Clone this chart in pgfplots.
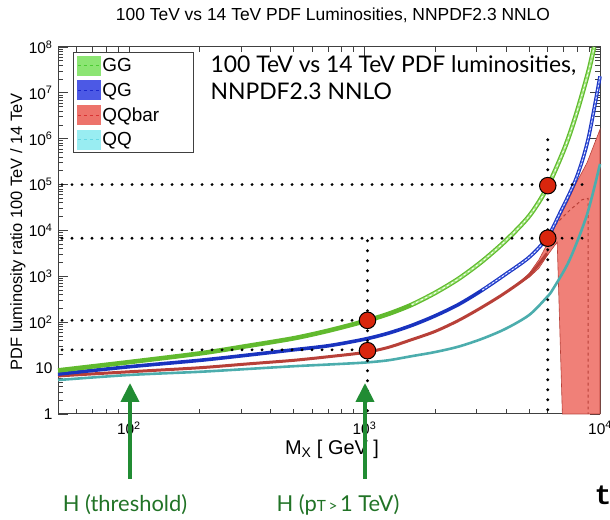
\documentclass[border=0pt]{standalone}
\usepackage{fontspec}
\setmainfont{Liberation Sans}
\newfontfamily\gill{Lato}
\newfontfamily\monob{Liberation Mono}
\usepackage{pgfplots}
\pgfplotsset{compat=1.18}
\usetikzlibrary{arrows.meta}
\definecolor{ggdark}{rgb}{0.38,0.73,0.18}
\definecolor{gglight}{rgb}{0.62,0.9,0.48}
\definecolor{qgdark}{rgb}{0.1,0.2,0.75}
\definecolor{qglight}{rgb}{0.35,0.45,0.92}
\definecolor{qqbdark}{rgb}{0.72,0.25,0.22}
\definecolor{qqbfill}{rgb}{0.94,0.5,0.47}
\definecolor{qqdark}{rgb}{0.3,0.68,0.68}
\definecolor{lgg}{rgb}{0.55,0.9,0.45}
\definecolor{lggd}{rgb}{0.3,0.8,0.2}
\definecolor{lqg}{rgb}{0.3,0.35,0.9}
\definecolor{lqgd}{rgb}{0.1,0.15,0.8}
\definecolor{lqqb}{rgb}{0.93,0.45,0.42}
\definecolor{lqqbd}{rgb}{0.85,0.2,0.2}
\definecolor{lqq}{rgb}{0.6,0.93,0.95}
\definecolor{lqqd}{rgb}{0.4,0.85,0.9}
\definecolor{arrowgreen}{rgb}{0.13,0.55,0.2}
\definecolor{textgreen}{rgb}{0.13,0.45,0.15}
\definecolor{dotred}{rgb}{0.85,0.15,0.05}
\begin{document}
\begin{tikzpicture}[x=1bp,y=1bp]
\useasboundingbox (-58,-106) rectangle (552,414);
\begin{axis}[
  at={(0,0)}, anchor=south west,
  scale only axis, width=542bp, height=367bp,
  xmode=log, ymode=log,
  xmin=50, xmax=10000, ymin=1, ymax=1e8,
  clip=false,
  axis line style={black!75, line width=1bp},
  tick align=inside, tick pos=both,
  major tick length=10bp, minor tick length=5bp,
  tick style={black!75, line width=0.8bp},
  xtick={100,1000,10000},
  xticklabels={10\textsuperscript{2},10\textsuperscript{3},10\textsuperscript{4}},
  xticklabel style={yshift=-4bp},
  minor xtick={60,70,80,90,200,300,400,500,600,700,800,900,2000,3000,4000,5000,6000,7000,8000,9000},
  ytick={1,10,100,1000,10000,100000,1000000,10000000,100000000},
  yticklabels={1,10,10\textsuperscript{2},10\textsuperscript{3},10\textsuperscript{4},10\textsuperscript{5},10\textsuperscript{6},10\textsuperscript{7},10\textsuperscript{8}},
  yticklabel style={xshift=-2bp},
  minor ytick={2,3,4,5,6,7,8,9,20,30,40,50,60,70,80,90,200,300,400,500,600,700,800,900,2000,3000,4000,5000,6000,7000,8000,9000,2e4,3e4,4e4,5e4,6e4,7e4,8e4,9e4,2e5,3e5,4e5,5e5,6e5,7e5,8e5,9e5,2e6,3e6,4e6,5e6,6e6,7e6,8e6,9e6,2e7,3e7,4e7,5e7,6e7,7e7,8e7,9e7},
  ticklabel style={font=\fontsize{15.5}{17}\selectfont},
  legend style={at={(axis description cs:0.028,0.986)}, anchor=north west,
    draw=black!75, line width=0.8bp, font=\fontsize{19}{21}\selectfont,
    row sep=5bp, inner xsep=3bp, inner ysep=3bp, cells={anchor=west}},
  legend cell align=left,
]
% QQbar band
\addplot[fill=qqbfill, draw=qqbdark, line width=0.6bp, forget plot] coordinates {
 (4570,760) (5000,1150) (5500,2300) (5960,5000) (6600,1.6e4) (7250,4e4) (7940,1.1e5) (8810,3e5) (10000,1.6e6)
 (10000,1) (6920,1) (6580,5600) (5960,2800) (5500,1500) (5000,950) (4570,700)} -- cycle;
\addplot[qqbdark, dashed, line width=1bp, forget plot] coordinates {
 (5960,3300) (6140,1e4) (6760,1.7e4) (7460,2.8e4) (8400,4.7e4) (8900,5e4) (8900,1)};
% QQ
\addplot[qqdark, line width=2.6bp, smooth, forget plot] coordinates {
 (50,5.5) (100,7.08) (200,8.32) (316,9.55) (501,11.0) (708,12.0) (1000,13.2) (1259,14.8) (1585,18.2) (1995,22.4) (2512,29.5) (3162,43.7) (3981,72.4) (5012,145) (5957,355) (6310,525) (7413,2239) (8810,22387) (10000,2.82e5)};
% QQbar
\addplot[qqbdark, line width=3bp, smooth, forget plot] coordinates {
 (50,6.76) (100,8.32) (200,10.2) (316,12.3) (501,14.8) (708,17.8) (1000,21.9) (1259,28.2) (1585,41.7) (1995,63.1) (2512,110) (3162,214) (3981,447) (5012,1072) (5957,3162)};
% QG
\addplot[qgdark, line width=3.6bp, smooth, forget plot] coordinates {
 (50,7.41) (100,10.7) (200,14.8) (316,19.1) (501,25.1) (708,30.9) (1000,42.7) (1259,57.5) (1585,85.1) (1995,138) (2512,245) (3162,501) (3981,1122) (5012,2630) (5957,6918) (6761,23990) (7943,1.41e5) (8913,1e6) (10000,2.29e7)};
\addplot[qglight, line width=1.5bp, smooth, forget plot] coordinates {
 (3162,501) (3981,1122) (5012,2630) (5957,6918) (6761,23990) (7943,1.41e5) (8913,1e6) (10000,2.29e7)};
\addplot[white, line width=0.7bp, dash pattern=on 2bp off 2bp, smooth, forget plot] coordinates {
 (3162,501) (3981,1122) (5012,2630) (5957,6918) (6761,23990) (7943,1.41e5) (8913,1e6) (10000,2.29e7)};
% GG
\addplot[ggdark, line width=4.6bp, smooth, forget plot] coordinates {
 (50,8.91) (100,13.5) (200,20.9) (316,30.2) (501,44.7) (708,66.1) (1000,105) (1259,151) (1585,240) (1995,437) (2512,891) (3162,2138) (3981,6026) (5012,20893) (5957,85114) (7079,6.31e5) (7943,3.55e6) (8913,2.82e7) (9440,1e8)};
\addplot[gglight, line width=2.2bp, smooth, forget plot] coordinates {
 (1585,240) (1995,437) (2512,891) (3162,2138) (3981,6026) (5012,20893) (5957,85114) (7079,6.31e5) (7943,3.55e6) (8913,2.82e7) (9440,1e8)};
\addplot[white, line width=0.8bp, dash pattern=on 2.5bp off 2.5bp, smooth, forget plot] coordinates {
 (1585,240) (1995,437) (2512,891) (3162,2138) (3981,6026) (5012,20893) (5957,85114) (7079,6.31e5) (7943,3.55e6) (8913,2.82e7) (9440,1e8)};
% dotted guide lines
\addplot[black, line width=3.2bp, line cap=round, dash pattern=on 0bp off 10bp, forget plot] coordinates {(52,1e5) (9100,1e5)};
\addplot[black, line width=3.2bp, line cap=round, dash pattern=on 0bp off 10bp, forget plot] coordinates {(52,6800) (9100,6800)};
\addplot[black, line width=3.2bp, line cap=round, dash pattern=on 0bp off 10bp, forget plot] coordinates {(52,110) (1170,110)};
\addplot[black, line width=3.2bp, line cap=round, dash pattern=on 0bp off 10bp, forget plot] coordinates {(52,25) (1170,25)};
\addplot[black, line width=3.2bp, line cap=round, dash pattern=on 0bp off 10bp, forget plot] coordinates {(1030,6000) (1030,0.75)};
\addplot[black, line width=3.2bp, line cap=round, dash pattern=on 0bp off 10bp, forget plot] coordinates {(6000,9.5e5) (6000,0.75)};
% highlighted points
\addplot[only marks, mark=*, mark size=8.3pt, mark options={fill=dotred, draw=black, line width=1bp}, forget plot] coordinates {(1030,110) (1030,24) (6000,9.5e4) (6000,6800)};
% legend
\addlegendimage{legend image code/.code={\fill[lgg] (0bp,-9.5bp) rectangle (23bp,9.5bp); \draw[lggd,dashed,line width=1bp] (1bp,0bp)--(22bp,0bp);}}
\addlegendentry{\makebox[86bp][l]{GG}}
\addlegendimage{legend image code/.code={\fill[lqg] (0bp,-9.5bp) rectangle (23bp,9.5bp); \draw[lqgd,dashed,line width=1bp] (1bp,0bp)--(22bp,0bp);}}
\addlegendentry{QG}
\addlegendimage{legend image code/.code={\fill[lqqb] (0bp,-9.5bp) rectangle (23bp,9.5bp); \draw[lqqbd,dashed,line width=1bp] (1bp,0bp)--(22bp,0bp);}}
\addlegendentry{QQbar}
\addlegendimage{legend image code/.code={\fill[lqq] (0bp,-9.5bp) rectangle (23bp,9.5bp); \draw[lqqd,dashed,line width=1bp] (1bp,0bp)--(22bp,0bp);}}
\addlegendentry{QQ}
\end{axis}
% titles and labels
\node[font=\fontsize{17.5}{19}\selectfont] at (275,399) {100 TeV vs 14 TeV PDF Luminosities, NNPDF2.3 NNLO};
\node[font=\fontsize{16.5}{18}\selectfont, rotate=90] at (-40,182) {PDF luminosity ratio 100 TeV / 14 TeV};
\node[font=\fontsize{20}{22}\selectfont] at (274,-35) {M\textsubscript{X} [ GeV ]};
\node[anchor=base west, font=\gill\fontsize{23}{26}\selectfont] at (149,341) {100 TeV vs 14 TeV PDF luminosities,};
\node[anchor=base west, font=\gill\fontsize{23}{26}\selectfont] at (149,314) {NNPDF2.3 NNLO};
% arrows
\draw[arrowgreen, line width=4bp, -{Triangle[width=18bp,length=19bp]}] (72,-65) -- (72,31);
\draw[arrowgreen, line width=4bp, -{Triangle[width=18bp,length=19bp]}] (307,-65) -- (307,31);
\node[anchor=base, text=textgreen, font=\gill\fontsize{22}{24}\selectfont] at (67,-98) {H (threshold)};
\node[anchor=base west, text=textgreen, font=\gill\fontsize{22}{24}\selectfont] at (215,-98) {H (p{\fontsize{15.5}{15}\selectfont T\,>\,}1 TeV)};
\node[anchor=base west, font=\monob\bfseries\fontsize{28}{30}\selectfont] at (533,-91) {t};
\end{tikzpicture}
\end{document}
